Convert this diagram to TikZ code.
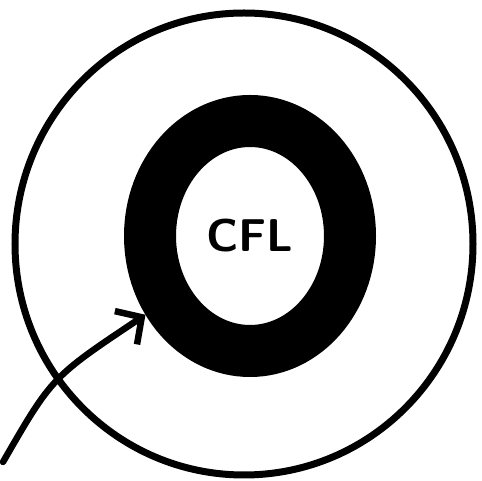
\documentclass[tikz,border=0pt]{standalone}
\usepackage{tikz}
\usetikzlibrary{arrows.meta,shapes.geometric}
\definecolor{inkblack}{HTML}{000000}
\tikzset{
  outerring/.style={
    ellipse,
    draw=inkblack,
    line width=7pt,
    inner sep=0pt,
    minimum width=458pt,
    minimum height=462pt
  },
  cflring/.style={
    ellipse,
    draw=inkblack,
    line width=52pt,
    inner sep=0pt,
    outer sep=26pt,
    minimum width=200pt,
    minimum height=230pt,
    font=\fontsize{46}{50}\selectfont\sffamily\bfseries
  },
  pointer/.style={-{Straight Barb[length=19pt,width=40pt]}, line width=6.5pt, draw=inkblack, line cap=round}
}

\begin{document}
\begin{tikzpicture}[x=1pt,y=1pt]
\useasboundingbox (0,0) rectangle (482,481);
\node[outerring] (outer) at (244,237) {};
\node[cflring] (ring) at (250,245) {CFL};
\coordinate (tail) at (3,19);

\draw[pointer] (tail) .. controls (52,104) .. (ring.217);
\end{tikzpicture}
\end{document}
